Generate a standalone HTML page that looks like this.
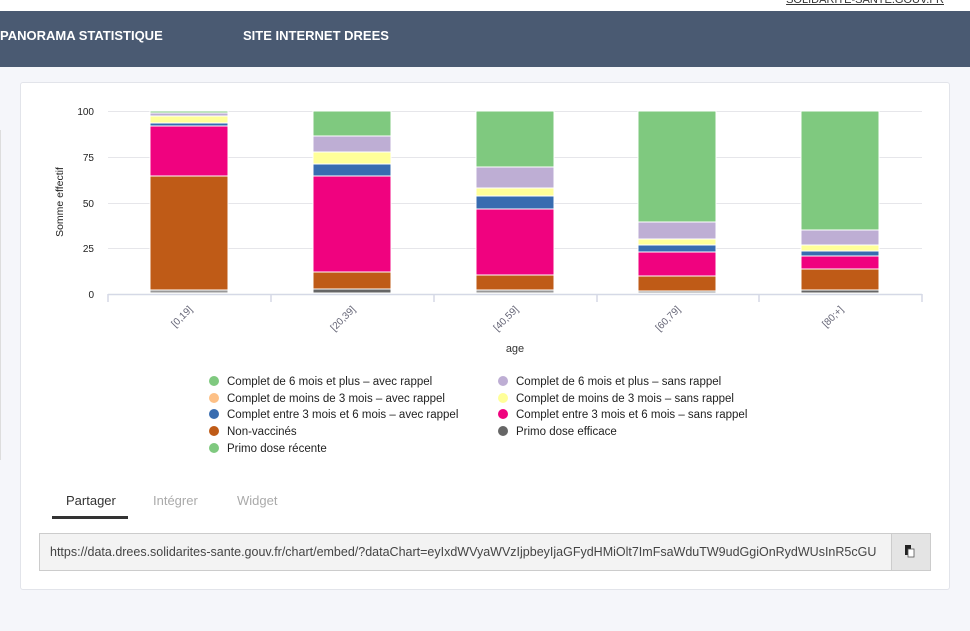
<!DOCTYPE html>
<html><head><meta charset="utf-8"><style>
*{margin:0;padding:0;box-sizing:border-box}
body{width:970px;height:631px;overflow:hidden;background:#f5f6fa;font-family:"Liberation Sans",sans-serif;position:relative}
.top{position:absolute;left:0;top:0;width:970px;height:11px;background:#fff}
.top span{position:absolute;right:26px;top:-6px;font-size:11px;color:#333;text-decoration:underline}
.hdr{position:absolute;left:0;top:11px;width:970px;height:56px;background:#4a5a72;color:#fff;font-weight:bold;font-size:13px}
.hdr span{position:absolute;top:17px}
.card{position:absolute;left:20px;top:82px;width:930px;height:508px;background:#fff;border:1px solid #e2e4ea;border-radius:3px}
.lline{position:absolute;left:0;top:130px;width:1px;height:330px;background:#ddd}
.tabs{position:absolute;top:493px;font-size:13px;color:#aaa}
.url{position:absolute;left:39px;top:533px;width:892px;height:38px;background:#f3f3f3;border:1px solid #ccc;font-size:12.5px;color:#444;padding:11px 10px;white-space:nowrap;overflow:hidden}
.btn{position:absolute;left:891px;top:533px;width:40px;height:38px;background:#e4e4e4;border:1px solid #ccc;border-left:1px solid #ccc}
</style></head><body>
<div class="top"><span>SOLIDARITE-SANTE.GOUV.FR</span></div>
<div class="hdr"><span style="left:0">PANORAMA STATISTIQUE</span><span style="left:243px">SITE INTERNET DREES</span></div>
<div class="lline"></div>
<div class="card"></div>
<svg style="position:absolute;left:0;top:0" width="970" height="631" font-family="Liberation Sans, sans-serif">
<g stroke="#e6e6ea" stroke-width="1">
<line x1="108" y1="111.5" x2="922" y2="111.5"/><line x1="108" y1="157.5" x2="922" y2="157.5"/>
<line x1="108" y1="203.5" x2="922" y2="203.5"/><line x1="108" y1="248.5" x2="922" y2="248.5"/>
</g>
<g stroke="#d5d9e6" stroke-width="1.5">
<line x1="108" y1="294.5" x2="922" y2="294.5"/>
<line x1="108" y1="294" x2="108" y2="302"/><line x1="271" y1="294" x2="271" y2="302"/><line x1="434" y1="294" x2="434" y2="302"/>
<line x1="597" y1="294" x2="597" y2="302"/><line x1="759" y1="294" x2="759" y2="302"/><line x1="922" y1="294" x2="922" y2="302"/>
</g>
<g font-size="10" fill="#222" text-anchor="end">
<text x="94" y="115">100</text><text x="94" y="161">75</text><text x="94" y="207">50</text><text x="94" y="252">25</text><text x="94" y="298">0</text>
</g>
<text transform="translate(63,202) rotate(-90)" font-size="10.5" fill="#222" text-anchor="middle">Somme effectif</text>
<g font-size="10" fill="#667" text-anchor="end">
<text transform="translate(193,310) rotate(-45)">[0,19]</text>
<text transform="translate(356,310) rotate(-45)">[20,39]</text>
<text transform="translate(519,310) rotate(-45)">[40,59]</text>
<text transform="translate(681,310) rotate(-45)">[60,79]</text>
<text transform="translate(844,310) rotate(-45)">[80;+]</text>
</g>
<text x="515" y="352" font-size="11" fill="#333" text-anchor="middle">age</text>
<g stroke="#fff" stroke-width="1">
<rect x="150" y="290" width="78" height="3" fill="#999"/>
<rect x="150" y="176" width="78" height="114" fill="#bf5b17"/>
<rect x="150" y="126" width="78" height="50" fill="#f0027f"/>
<rect x="150" y="123" width="78" height="3" fill="#386cb0"/>
<rect x="150" y="116" width="78" height="7" fill="#ffff99"/>
<rect x="150" y="113" width="78" height="3" fill="#beaed4"/>
<rect x="150" y="111" width="78" height="2" fill="#7fc97f"/>
<rect x="313" y="289" width="78" height="4" fill="#666"/>
<rect x="313" y="272" width="78" height="17" fill="#bf5b17"/>
<rect x="313" y="176" width="78" height="96" fill="#f0027f"/>
<rect x="313" y="164" width="78" height="12" fill="#386cb0"/>
<rect x="313" y="152" width="78" height="12" fill="#ffff99"/>
<rect x="313" y="136" width="78" height="16" fill="#beaed4"/>
<rect x="313" y="111" width="78" height="25" fill="#7fc97f"/>
<rect x="476" y="290" width="78" height="3" fill="#999"/>
<rect x="476" y="275" width="78" height="15" fill="#bf5b17"/>
<rect x="476" y="209" width="78" height="66" fill="#f0027f"/>
<rect x="476" y="196" width="78" height="13" fill="#386cb0"/>
<rect x="476" y="188" width="78" height="8" fill="#ffff99"/>
<rect x="476" y="167" width="78" height="21" fill="#beaed4"/>
<rect x="476" y="111" width="78" height="56" fill="#7fc97f"/>
<rect x="638" y="291" width="78" height="2" fill="#999"/>
<rect x="638" y="276" width="78" height="15" fill="#bf5b17"/>
<rect x="638" y="252" width="78" height="24" fill="#f0027f"/>
<rect x="638" y="245" width="78" height="7" fill="#386cb0"/>
<rect x="638" y="239" width="78" height="6" fill="#ffff99"/>
<rect x="638" y="222" width="78" height="17" fill="#beaed4"/>
<rect x="638" y="111" width="78" height="111" fill="#7fc97f"/>
<rect x="801" y="290" width="78" height="3" fill="#666"/>
<rect x="801" y="269" width="78" height="21" fill="#bf5b17"/>
<rect x="801" y="256" width="78" height="13" fill="#f0027f"/>
<rect x="801" y="251" width="78" height="5" fill="#386cb0"/>
<rect x="801" y="245" width="78" height="6" fill="#ffff99"/>
<rect x="801" y="230" width="78" height="15" fill="#beaed4"/>
<rect x="801" y="111" width="78" height="119" fill="#7fc97f"/>
</g>
<g font-size="11.5" fill="#222">
<circle cx="214" cy="381" r="5" fill="#7fc97f"/><text x="227" y="385">Complet de 6 mois et plus – avec rappel</text>
<circle cx="214" cy="398" r="5" fill="#fdc086"/><text x="227" y="402">Complet de moins de 3 mois – avec rappel</text>
<circle cx="214" cy="414" r="5" fill="#386cb0"/><text x="227" y="418">Complet entre 3 mois et 6 mois – avec rappel</text>
<circle cx="214" cy="431" r="5" fill="#bf5b17"/><text x="227" y="435">Non-vaccinés</text>
<circle cx="214" cy="448" r="5" fill="#7fc97f"/><text x="227" y="452">Primo dose récente</text>
<circle cx="503" cy="381" r="5" fill="#beaed4"/><text x="516" y="385">Complet de 6 mois et plus – sans rappel</text>
<circle cx="503" cy="398" r="5" fill="#ffff99"/><text x="516" y="402">Complet de moins de 3 mois – sans rappel</text>
<circle cx="503" cy="414" r="5" fill="#f0027f"/><text x="516" y="418">Complet entre 3 mois et 6 mois – sans rappel</text>
<circle cx="503" cy="431" r="5" fill="#666"/><text x="516" y="435">Primo dose efficace</text>
</g>
<rect x="52" y="516" width="76" height="3" fill="#333"/>
</svg>
<div class="tabs" style="left:66px;color:#333">Partager</div>
<div class="tabs" style="left:153px">Intégrer</div>
<div class="tabs" style="left:237px">Widget</div>
<div class="url">https://data.drees.solidarites-sante.gouv.fr/chart/embed/?dataChart=eyIxdWVyaWVzIjpbeyIjaGFydHMiOlt7ImFsaWduTW9udGgiOnRydWUsInR5cGU</div>
<div class="btn"></div>
<svg style="position:absolute;left:0;top:0" width="970" height="631"><rect x="905" y="545" width="6" height="10" fill="#222"/><rect x="908" y="549" width="6" height="8" fill="#fff" stroke="#555" stroke-width="0.8"/></svg>
</body></html>
